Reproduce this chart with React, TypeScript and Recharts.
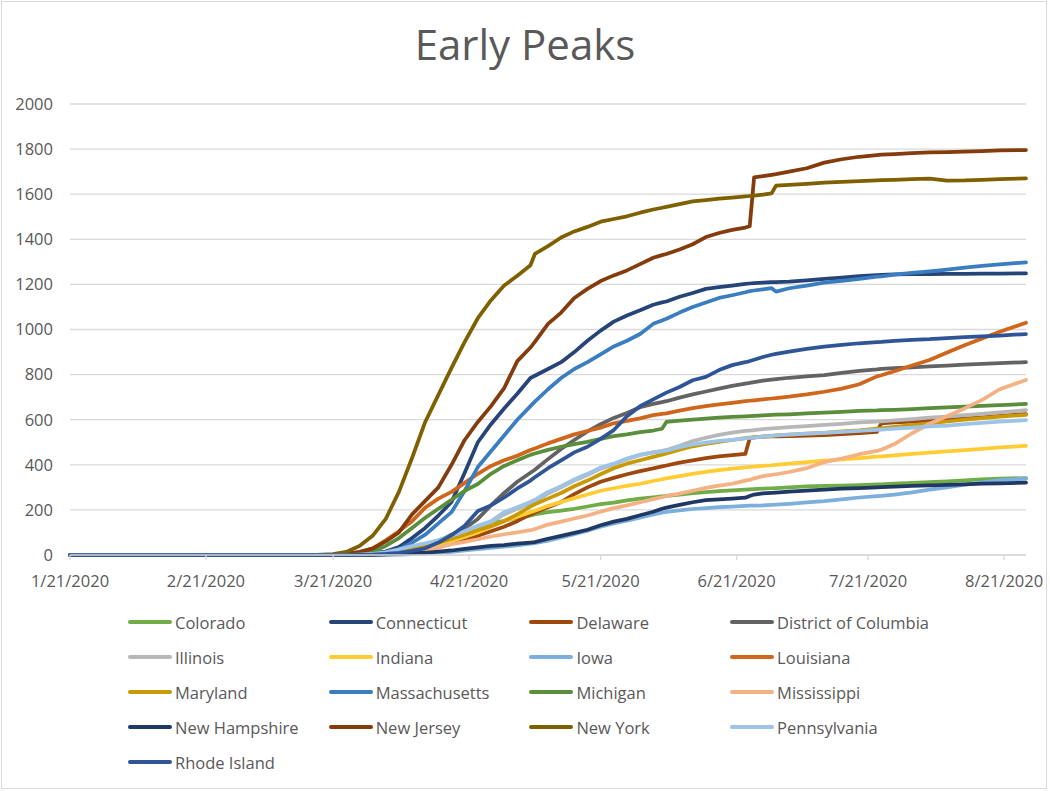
import React from 'react';
import { LineChart, Line, XAxis, YAxis, CartesianGrid } from 'recharts';

// days since 1/21/2020
const days = [0, 55, 60, 63, 66, 69, 72, 75, 78, 81, 84, 87, 90, 93, 96, 99, 102, 105, 106, 109, 112, 115, 118, 121, 124, 127, 130, 133, 135, 136, 139, 142, 145, 148, 151, 154, 155, 156, 158, 160, 161, 164, 168, 172, 176, 180, 184, 185, 188, 192, 196, 200, 204, 208, 212, 218];

const tickDays = [0, 31, 60, 91, 121, 152, 182, 213];
const tickLabels = ['1/21/2020', '2/21/2020', '3/21/2020', '4/21/2020', '5/21/2020', '6/21/2020', '7/21/2020', '8/21/2020'];
const yTicks = [0, 200, 400, 600, 800, 1000, 1200, 1400, 1600, 1800, 2000];

const colorado = [0, 0, 0, 1, 3, 8, 15, 25, 35, 45, 65, 85, 105, 122, 140, 152, 165, 175, 180, 190, 197, 205, 215, 226, 232, 242, 250, 256, 260, 262, 268, 274, 279, 283, 287, 290, 291, 292, 294, 296, 297, 300, 304, 306, 308, 310, 313, 313, 316, 320, 323, 327, 331, 335, 339, 341];
const connecticut = [0, 0, 0, 1, 3, 6, 15, 35, 75, 120, 175, 235, 365, 500, 580, 650, 715, 785, 795, 825, 855, 900, 950, 995, 1035, 1062, 1085, 1110, 1120, 1124, 1145, 1162, 1180, 1188, 1195, 1202, 1204, 1206, 1208, 1210, 1210, 1212, 1218, 1224, 1230, 1237, 1241, 1242, 1245, 1246, 1246, 1247, 1247, 1248, 1248, 1249];
const delaware = [0, 0, 0, 0, 0, 1, 4, 8, 15, 25, 35, 50, 68, 85, 105, 125, 150, 180, 188, 212, 235, 270, 300, 325, 342, 358, 372, 384, 393, 397, 410, 420, 430, 437, 443, 448, 518, 522, 525, 526, 526, 527, 529, 532, 536, 540, 546, 584, 588, 592, 596, 600, 605, 610, 617, 625];
const dc = [0, 0, 0, 1, 2, 4, 8, 14, 25, 40, 60, 90, 118, 160, 220, 275, 325, 365, 378, 425, 470, 510, 548, 580, 608, 630, 655, 670, 678, 682, 698, 712, 725, 738, 750, 760, 763, 767, 773, 778, 780, 786, 792, 798, 808, 817, 823, 825, 829, 832, 836, 840, 844, 848, 851, 855];
const illinois = [0, 0, 0, 0, 1, 4, 10, 20, 35, 48, 62, 80, 100, 125, 145, 180, 205, 228, 238, 272, 300, 330, 355, 383, 402, 425, 443, 455, 462, 466, 484, 505, 520, 533, 543, 550, 552, 554, 558, 562, 563, 567, 572, 577, 582, 588, 592, 593, 597, 603, 609, 614, 620, 626, 632, 642];
const indiana = [0, 0, 0, 0, 1, 3, 7, 12, 20, 30, 45, 62, 80, 100, 125, 150, 170, 190, 196, 218, 235, 252, 268, 285, 296, 307, 316, 328, 336, 340, 350, 360, 369, 376, 383, 389, 391, 392, 395, 398, 400, 405, 412, 418, 424, 430, 436, 437, 442, 448, 454, 459, 465, 471, 477, 484];
const iowa = [0, 0, 0, 0, 0, 0, 1, 2, 4, 6, 10, 14, 20, 26, 32, 37, 43, 50, 53, 64, 78, 92, 108, 126, 140, 152, 165, 180, 188, 191, 198, 204, 208, 212, 215, 218, 219, 219, 220, 222, 223, 227, 233, 239, 247, 255, 261, 262, 268, 278, 290, 300, 312, 322, 332, 339];
const louisiana = [0, 0, 1, 4, 12, 30, 65, 105, 150, 210, 250, 280, 320, 360, 395, 420, 440, 466, 472, 495, 515, 535, 550, 565, 584, 595, 606, 620, 626, 628, 640, 651, 660, 668, 675, 682, 684, 686, 690, 694, 696, 702, 712, 724, 738, 757, 792, 797, 815, 840, 865, 898, 930, 960, 990, 1030];
const maryland = [0, 0, 0, 0, 1, 3, 8, 15, 25, 38, 55, 72, 90, 110, 128, 150, 180, 215, 225, 250, 275, 305, 330, 358, 385, 405, 420, 435, 445, 450, 467, 482, 493, 502, 510, 518, 520, 522, 525, 528, 530, 534, 538, 542, 548, 553, 560, 562, 568, 576, 584, 592, 600, 607, 614, 621];
const massachusetts = [0, 0, 0, 1, 3, 6, 12, 25, 55, 90, 140, 190, 285, 390, 460, 530, 600, 660, 680, 735, 785, 825, 855, 890, 925, 950, 980, 1025, 1040, 1048, 1075, 1100, 1120, 1140, 1152, 1165, 1170, 1173, 1178, 1183, 1168, 1183, 1195, 1208, 1216, 1225, 1234, 1236, 1243, 1251, 1258, 1266, 1274, 1282, 1289, 1298];
const michigan = [0, 0, 0, 2, 6, 15, 40, 75, 120, 165, 205, 245, 285, 315, 360, 395, 420, 444, 450, 466, 480, 492, 502, 515, 527, 535, 545, 552, 560, 590, 596, 600, 605, 609, 612, 615, 616, 617, 619, 621, 622, 624, 628, 631, 635, 639, 641, 642, 644, 647, 651, 655, 658, 661, 665, 670];
const mississippi = [0, 0, 0, 0, 0, 1, 3, 6, 12, 20, 33, 48, 58, 70, 82, 92, 100, 110, 115, 135, 148, 162, 175, 192, 208, 220, 234, 248, 256, 262, 272, 285, 298, 308, 316, 330, 333, 340, 350, 355, 358, 368, 385, 412, 428, 447, 462, 467, 492, 540, 582, 615, 650, 688, 735, 776];
const newHampshire = [0, 0, 0, 0, 0, 1, 3, 5, 8, 10, 15, 20, 27, 34, 40, 44, 50, 55, 57, 72, 85, 98, 112, 132, 148, 160, 176, 192, 205, 210, 222, 234, 243, 247, 250, 254, 262, 268, 273, 276, 277, 281, 286, 290, 294, 297, 300, 301, 303, 306, 309, 311, 313, 316, 318, 321];
const newJersey = [0, 0, 2, 6, 14, 28, 60, 100, 180, 240, 300, 400, 510, 590, 660, 740, 860, 920, 945, 1025, 1075, 1140, 1180, 1215, 1240, 1262, 1290, 1318, 1330, 1335, 1355, 1378, 1410, 1428, 1442, 1452, 1458, 1675, 1680, 1686, 1689, 1700, 1715, 1740, 1755, 1766, 1773, 1775, 1778, 1782, 1785, 1787, 1789, 1791, 1794, 1796];
const newYork = [0, 0, 4, 14, 40, 85, 160, 280, 430, 590, 710, 830, 945, 1050, 1130, 1195, 1238, 1285, 1335, 1370, 1408, 1435, 1455, 1478, 1490, 1502, 1518, 1532, 1540, 1544, 1556, 1568, 1574, 1580, 1585, 1590, 1592, 1594, 1598, 1604, 1638, 1641, 1646, 1651, 1655, 1658, 1661, 1662, 1664, 1667, 1669, 1660, 1661, 1664, 1667, 1670];
const pennsylvania = [0, 0, 0, 0, 2, 5, 12, 25, 40, 52, 65, 85, 105, 130, 150, 190, 212, 235, 245, 280, 305, 335, 360, 388, 405, 428, 445, 455, 460, 463, 478, 490, 498, 506, 511, 517, 519, 521, 525, 528, 530, 534, 538, 542, 546, 550, 555, 556, 560, 565, 570, 574, 580, 586, 591, 598];
const rhodeIsland = [0, 0, 0, 0, 1, 2, 5, 10, 18, 30, 55, 88, 130, 195, 220, 255, 295, 330, 345, 385, 420, 455, 480, 515, 554, 615, 660, 690, 710, 720, 745, 775, 790, 820, 842, 855, 860, 866, 878, 888, 892, 902, 914, 924, 932, 939, 944, 945, 950, 954, 957, 962, 966, 970, 973, 980];

const series = [
  { key: 'co', name: 'Colorado', color: '#70AD47', values: colorado },
  { key: 'ct', name: 'Connecticut', color: '#264478', values: connecticut },
  { key: 'de', name: 'Delaware', color: '#9E480E', values: delaware },
  { key: 'dc', name: 'District of Columbia', color: '#636363', values: dc },
  { key: 'il', name: 'Illinois', color: '#B7B7B7', values: illinois },
  { key: 'in', name: 'Indiana', color: '#FFCD33', values: indiana },
  { key: 'ia', name: 'Iowa', color: '#7CAFDD', values: iowa },
  { key: 'la', name: 'Louisiana', color: '#D0661B', values: louisiana },
  { key: 'md', name: 'Maryland', color: '#C99A06', values: maryland },
  { key: 'ma', name: 'Massachusetts', color: '#3A7EC1', values: massachusetts },
  { key: 'mi', name: 'Michigan', color: '#5A8E3A', values: michigan },
  { key: 'ms', name: 'Mississippi', color: '#F4B183', values: mississippi },
  { key: 'nh', name: 'New Hampshire', color: '#1F3864', values: newHampshire },
  { key: 'nj', name: 'New Jersey', color: '#843C0C', values: newJersey },
  { key: 'ny', name: 'New York', color: '#7F6000', values: newYork },
  { key: 'pa', name: 'Pennsylvania', color: '#9DC3E6', values: pennsylvania },
  { key: 'ri', name: 'Rhode Island', color: '#2F5597', values: rhodeIsland },
];

const data = days.map((day, i) => {
  const row: Record<string, number> = { day };
  series.forEach((s) => {
    row[s.key] = s.values[i];
  });
  return row;
});

const textColor = '#595959';
const gridColor = '#D9D9D9';

export default function App() {
  return (
    <div
      style={{
        position: 'absolute',
        left: 0,
        top: 0,
        width: 1050,
        height: 791,
        background: '#fff',
        fontFamily: "'Open Sans', sans-serif",
      }}
    >
      <div
        style={{
          position: 'absolute',
          left: 1,
          top: 1,
          width: 1046,
          height: 788,
          border: `1px solid ${gridColor}`,
          boxSizing: 'border-box',
        }}
      />
      <div
        style={{
          position: 'absolute',
          left: 0,
          top: 23,
          width: 1050,
          textAlign: 'center',
          fontSize: 42,
          lineHeight: '42px',
          color: textColor,
        }}
      >
        Early Peaks
      </div>
      <div style={{ position: 'absolute', left: 0, top: 0 }}>
        <LineChart
          width={1050}
          height={791}
          data={data}
          margin={{ top: 104, right: 24, bottom: 206, left: 0 }}
        >
          <CartesianGrid vertical={false} stroke={gridColor} strokeWidth={1.3} />
          <XAxis
            dataKey="day"
            type="number"
            domain={[0, 218]}
            ticks={tickDays}
            interval={0}
            tickFormatter={(v: number) => tickLabels[tickDays.indexOf(v)] ?? ''}
            height={30}
            axisLine={{ stroke: gridColor, strokeWidth: 1.3 }}
            tickLine={{ stroke: gridColor, strokeWidth: 1.3 }}
            tickSize={5}
            tickMargin={15}
            tick={{ fill: textColor, fontSize: 16.5 }}
          />
          <YAxis
            domain={[0, 2000]}
            ticks={yTicks}
            interval={0}
            width={70}
            axisLine={false}
            tickLine={false}
            tickSize={6}
            tickMargin={11}
            tick={{ fill: textColor, fontSize: 16.5 }}
          />
          {series.map((s) => (
            <Line
              key={s.key}
              dataKey={s.key}
              name={s.name}
              type="linear"
              stroke={s.color}
              strokeWidth={3.75}
              strokeLinejoin="round"
              strokeLinecap="round"
              dot={false}
              activeDot={false}
              isAnimationActive={false}
            />
          ))}
        </LineChart>
      </div>
      {series.map((s, i) => {
        const col = i % 4;
        const row = Math.floor(i / 4);
        const left = 128 + col * 200.7;
        const top = 622 + row * 35;
        return (
          <div
            key={s.key}
            style={{ position: 'absolute', left, top: top - 12, height: 24, display: 'flex', alignItems: 'center' }}
          >
            <div style={{ width: 44, height: 4, borderRadius: 2, background: s.color }} />
            <span style={{ marginLeft: 3, fontSize: 16.5, color: textColor, whiteSpace: 'nowrap' }}>{s.name}</span>
          </div>
        );
      })}
    </div>
  );
}
